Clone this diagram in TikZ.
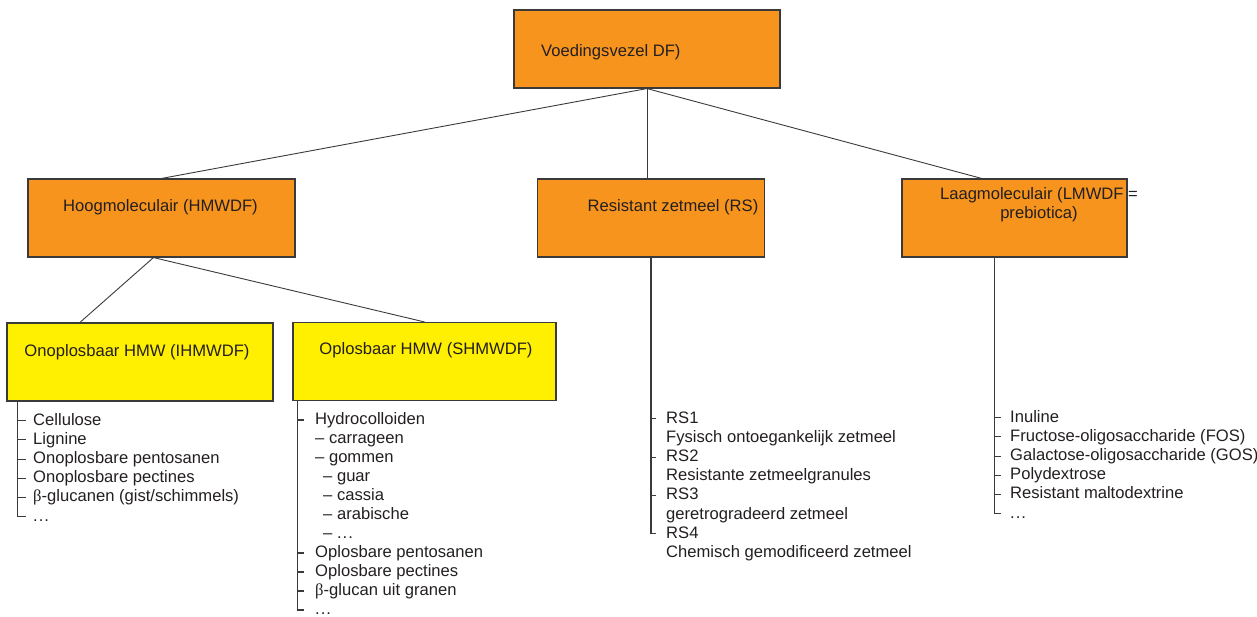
\documentclass[tikz,border=0pt]{standalone}
\usepackage{fontspec}
\setmainfont{Liberation Sans}
\newfontfamily\betafont{Liberation Serif}
\usetikzlibrary{calc}

\definecolor{dforange}{HTML}{F7941E}
\definecolor{hmwyellow}{HTML}{FFEF00}
\definecolor{boxline}{HTML}{3A3A3A}
\definecolor{txtgray}{HTML}{231F20}

\newcommand{\moredots}{.\kern1pt.\kern1pt.}

\tikzset{
          dfbox/.style={draw=boxline, fill=dforange, line width=1.1pt, minimum width=266pt, minimum height=78pt, inner sep=0pt},
          hmwbox/.style={dfbox, fill=hmwyellow},
          txt/.style={font=\fontsize{16.6}{19.2}\selectfont, text=txtgray},
          lbl/.style={txt, inner sep=0pt, anchor=center, text height=8.6pt, text depth=0pt},
          item/.style={lbl, anchor=west},
          tak/.style={draw=boxline, line width=0.9pt},
          spine/.style={draw=boxline, line width=1.1pt}
        }

\begin{document}
\begin{tikzpicture}[x=1pt, y=-1pt]
  \useasboundingbox (0,0) rectangle (1257,616);

  % boxes
  \node[dfbox] (df) at (647,49) {};
  \node[dfbox, minimum width=267pt] (hmw) at (161.5,218) {};
  \node[dfbox, minimum width=227pt] (rs) at (651,218) {};
  \node[dfbox, minimum width=225pt] (lmw) at (1014.5,218) {};
  \node[hmwbox] (ihmw) at (140,362) {};
  \node[hmwbox, minimum width=263pt] (shmw) at (424.5,361.5) {};

  \node[lbl, anchor=west] (dft) at (541,52) {Voedingsvezel DF)};
  \node[lbl] (hmwt) at (160.5,207) {Hoogmoleculair (HMWDF)};
  \node[lbl] (rst) at (673,207) {Resistant zetmeel (RS)};
  \node[txt, align=center, inner sep=0pt] (lmwt) at (1039,205) {Laagmoleculair (LMWDF =\\prebiotica)};
  \node[lbl] (ihmwt) at (137,352) {Onoplosbaar HMW (IHMWDF)};
  \node[lbl] (shmwt) at (426,350) {Oplosbaar HMW (SHMWDF)};

  % tree
  \coordinate (hmwout) at ($(hmw.south west)!0.47!(hmw.south east)$);
  \coordinate (lmwin) at ($(lmw.north west)!0.355!(lmw.north east)$);
  \coordinate (ihmwin) at ($(ihmw.north west)!0.275!(ihmw.north east)$);
  \draw[tak] (df.south) -- (hmw.north);
  \draw[tak] (df.south) -- (df.south |- rs.north);
  \draw[tak] (df.south) -- (lmwin);
  \draw[tak] (hmwout) -- (ihmwin);
  \draw[tak] (hmwout) -- (shmw.north);

  % onoplosbaar
  \coordinate (ihsp) at ($(ihmw.south west)+(11,0)$);
  \foreach \txt [count=\i] in {Cellulose, Lignine, Onoplosbare pentosanen, Onoplosbare pectines, {{\betafont β}-glucanen (gist/schimmels)}, \moredots}
    \node[item] (ih\i) at (33, {401.5+\i*19.2}) {\txt};
  \foreach \i in {1,...,5}
    \draw[spine] (ihsp |- ih\i.west) -- ([xshift=-7pt]ih\i.west);
  \draw[spine] (ihsp) |- ([xshift=-7pt]ih6.west);

  % oplosbaar
  \coordinate (shsp) at ($(shmw.south west)+(5,0)$);
  \foreach \dx/\txt [count=\i] in {0/Hydrocolloiden, 0/{– carrageen}, 0/{– gommen}, 8/{– guar}, 8/{– cassia}, 8/{– arabische}, 8/{– \moredots}, 0/Oplosbare pentosanen, 0/Oplosbare pectines, 0/{{\betafont β}-glucan uit granen}, 0/\moredots}
    \node[item] (sh\i) at ({315+\dx}, {401+\i*19}) {\txt};
  \foreach \i in {1,8,9,10}
    \draw[spine] (shsp |- sh\i.west) -- ([xshift=-11pt]sh\i.west);
  \draw[spine] (shsp) |- ([xshift=-11pt]sh11.west);

  % resistent zetmeel
  \foreach \txt [count=\i] in {RS1, Fysisch ontoegankelijk zetmeel, RS2, Resistante zetmeelgranules, RS3, geretrogradeerd zetmeel, RS4, Chemisch gemodificeerd zetmeel}
    \node[item] (rs\i) at (666, {399.5+\i*19.2}) {\txt};
  \foreach \i in {1,3,5}
    \draw[spine] (rs.south |- rs\i.west) -- ([xshift=-10pt]rs\i.west);
  \draw[spine] (rs.south) |- ([xshift=-10pt]rs7.west);

  % laagmoleculair
  \coordinate (lmsp) at ($(lmw.south west)!0.413!(lmw.south east)$);
  \foreach \txt [count=\i] in {Inuline, Fructose-oligosaccharide (FOS), Galactose-oligosaccharide (GOS), Polydextrose, Resistant maltodextrine, \moredots}
    \node[item] (lm\i) at (1010, {398.5+\i*19.2}) {\txt};
  \foreach \i in {1,...,5}
    \draw[spine] (lmsp |- lm\i.west) -- ([xshift=-9pt]lm\i.west);
  \draw[spine] (lmsp) |- ([xshift=-9pt]lm6.west);

\end{tikzpicture}
\end{document}
